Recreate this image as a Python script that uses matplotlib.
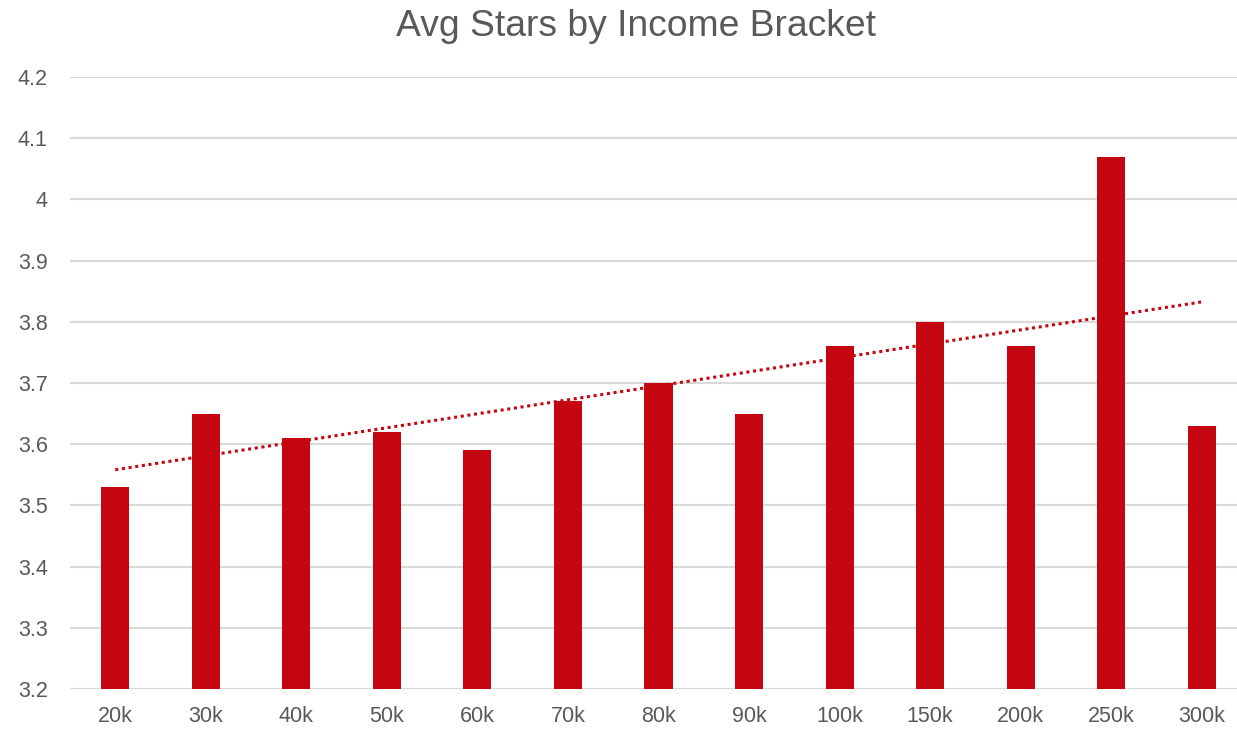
import numpy as np
import matplotlib.pyplot as plt

brackets = ["20k", "30k", "40k", "50k", "60k", "70k", "80k", "90k",
            "100k", "150k", "200k", "250k", "300k"]
avg_stars = [3.53, 3.65, 3.61, 3.62, 3.59, 3.67, 3.70, 3.65,
             3.76, 3.80, 3.76, 4.07, 3.63]
y_ticks = [3.2, 3.3, 3.4, 3.5, 3.6, 3.7, 3.8, 3.9, 4.0, 4.1, 4.2]
y_labels = ["3.2", "3.3", "3.4", "3.5", "3.6", "3.7", "3.8", "3.9", "4", "4.1", "4.2"]

red = "#C5050F"
grey = "#595959"
plt.rcParams['font.family'] = ['Liberation Sans', 'DejaVu Sans']

W, H = 1237, 730
fig = plt.figure(figsize=(W / 100, H / 100), dpi=100)
# axes: left 70px, top 77px, bottom 689px, right runs off the edge
ax = fig.add_axes([70 / W, 1 - 689 / H, (W - 70) / W, (689 - 77) / H])

x = np.arange(len(brackets))
ax.bar(x, avg_stars, width=0.31, color=red, zorder=2)

# linear trendline (least squares, like Excel)
k, b = np.polyfit(x, avg_stars, 1)
ax.plot(x, k * x + b, color=red, linestyle=(0, (1, 1.2)), linewidth=2.2, zorder=3)

ax.set_ylim(3.2, 4.2)
ax.set_xlim(-0.5, 12.39)
ax.set_yticks(y_ticks)
ax.set_yticklabels(y_labels)
ax.set_xticks(x)
ax.set_xticklabels(brackets)
ax.yaxis.grid(True, color="#D9D9D9", linewidth=1.5, zorder=0)
ax.set_axisbelow(True)
for s in ax.spines.values():
    s.set_visible(False)
ax.tick_params(axis="both", length=0, labelsize=15.5, colors=grey)
ax.tick_params(axis="y", pad=16)
ax.tick_params(axis="x", pad=12)

fig.text(636.5 / W, 1 - 36.5 / H, "Avg Stars by Income Bracket", ha="center", va="baseline",
         fontsize=26.8, color=grey)

plt.savefig("out.png", dpi=100)
